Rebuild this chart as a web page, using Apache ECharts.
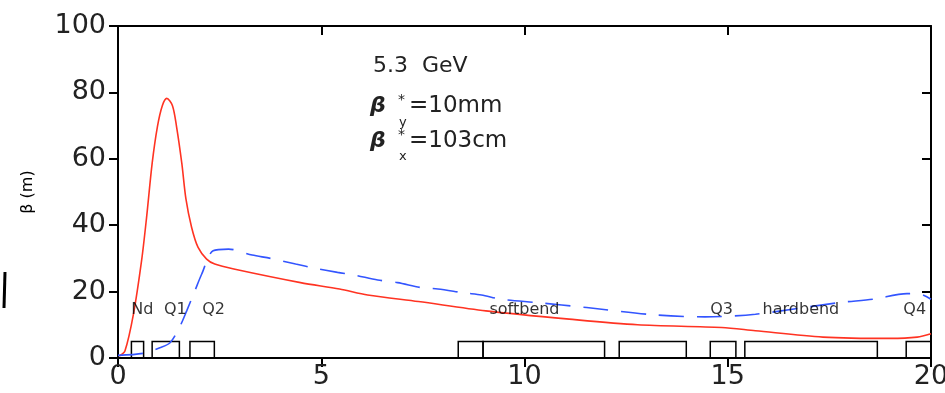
<!DOCTYPE html>
<html>
<head>
<meta charset="utf-8">
<script src="https://cdn.jsdelivr.net/npm/echarts@6/dist/echarts.min.js"></script>
<style>html,body{margin:0;padding:0;background:#fff}#c{width:945px;height:393px}</style>
</head>
<body>
<div id="c"></div>
<script>
// s (m) positions and beta values
const redX = [0.03,0.17,0.38,0.58,0.70,0.84,0.97,1.09,1.20,1.34,1.44,1.57,1.67,1.81,1.97,2.18,2.38,2.85,4.49,5.45,6.14,7.39,9.05,11.1,12.78,14.85,15.68,17.34,19.0,19.66,20.0];
const redY = [0.6,2.1,13.2,29.3,42.0,58.6,69.7,76.0,78.2,76.0,69.7,58.6,48.0,39.4,33.3,29.8,28.3,26.8,22.7,20.8,19.0,17.0,14.2,11.7,10.0,9.2,8.2,6.3,5.9,6.3,7.3];
const blueX = [0,0.62,1.03,1.28,1.51,1.69,1.89,2.06,2.34,2.72,3.30,3.75,4.37,4.82,5.40,5.81,6.39,6.88,7.46,7.87,8.53,8.94,9.43,10.3,11.53,13.19,14.44,15.68,17.75,18.58,19.41,19.75,20];
const blueY = [0.8,1.4,3.1,4.6,9.2,14.2,20.2,25.3,32.3,32.8,31.0,30.0,28.3,27.1,25.8,25.0,23.5,22.7,21.2,20.8,19.6,19.0,17.7,16.7,15.2,13.0,12.4,13.2,16.7,17.7,19.4,19.2,17.7];
// magnet elements: start, end, height
const boxStart = [0.33,0.84,1.77,8.37,8.98,12.33,14.57,15.42,19.39];
const boxEnd   = [0.63,1.51,2.37,8.98,11.97,13.98,15.2,18.68,20.0];
const boxHeight = 5;
// element names
const elemNames = ['Nd','Q1','Q2','softbend','Q3','hardbend','Q4'];
const elemX = [0.6,1.41,2.35,10.0,14.85,16.8,19.6];
const elemY = [14.5,14.5,14.5,14.5,14.5,14.5,14.5];
const xTicks = [0,5,10,15,20];
const yTicks = [0,20,40,60,80,100];

const redData = redX.map((x,i)=>[x,redY[i]]);
const blueData = blueX.map((x,i)=>[x,blueY[i]]);
const boxData = boxStart.map((s,i)=>[s,boxEnd[i],boxHeight]);
const labelData = elemNames.map((n,i)=>({value:[elemX[i],elemY[i]],name:n}));

const FONT = 'DejaVu Sans';
const axisLine = {show:true,onZero:false,lineStyle:{color:'#000',width:2}};
const tickOut = {show:true,inside:false,length:9,lineStyle:{color:'#000',width:2}};
const tickIn = {show:true,inside:true,length:9,lineStyle:{color:'#000',width:2}};

const chart = echarts.init(document.getElementById('c'));
chart.setOption({
  animation:false,
  backgroundColor:'#fff',
  grid:{left:118,right:14,top:26,bottom:35,containLabel:false,outerBoundsMode:'none'},
  xAxis:[
    {type:'value',position:'bottom',min:xTicks[0],max:xTicks[xTicks.length-1],interval:5,
     axisLine:axisLine,axisTick:tickOut,splitLine:{show:false},
     axisLabel:{fontFamily:FONT,fontSize:27,color:'#222',margin:5}},
    {type:'value',position:'top',min:0,max:20,interval:5,
     axisLine:axisLine,axisTick:tickIn,splitLine:{show:false},axisLabel:{show:false}}
  ],
  yAxis:[
    {type:'value',position:'left',min:yTicks[0],max:yTicks[yTicks.length-1],interval:20,
     axisLine:axisLine,axisTick:tickOut,splitLine:{show:false},
     axisLabel:{fontFamily:FONT,fontSize:27,color:'#222',margin:12},
     name:'β (m)',nameLocation:'middle',nameRotate:90,nameGap:82,
     nameTextStyle:{fontFamily:FONT,fontSize:16,color:'#000'}},
    {type:'value',position:'right',min:0,max:100,interval:20,
     axisLine:axisLine,axisTick:tickIn,splitLine:{show:false},axisLabel:{show:false}}
  ],
  series:[
    {type:'custom',xAxisIndex:0,yAxisIndex:0,data:boxData,silent:true,z:3,
     renderItem:function(params,api){
       const p0 = api.coord([api.value(0),api.value(2)]);
       const p1 = api.coord([api.value(1),0]);
       return {type:'rect',shape:{x:p0[0],y:p0[1],width:p1[0]-p0[0],height:p1[1]-p0[1]},
               style:{fill:'none',stroke:'#000',lineWidth:1.5}};
     }},
    {type:'line',xAxisIndex:0,yAxisIndex:0,data:redData,smooth:0.3,showSymbol:false,symbol:'none',
     lineStyle:{color:'#ff3322',width:1.6},z:4},
    {type:'line',xAxisIndex:0,yAxisIndex:0,data:blueData,smooth:0.3,showSymbol:false,symbol:'none',
     lineStyle:{color:'#3355ff',width:1.6,type:[25,13]},z:4},
    {type:'scatter',xAxisIndex:0,yAxisIndex:0,data:labelData,symbolSize:0,silent:true,z:5,
     label:{show:true,position:'inside',formatter:'{b}',fontFamily:FONT,fontSize:16,color:'#000'}}
  ],
  graphic:[
    {type:'text',left:373,top:55,style:{text:'5.3  GeV',fontFamily:FONT,fontSize:22,fill:'#222'}},
    {type:'text',left:370,top:95,style:{text:'β',fontFamily:FONT,fontSize:22,fontWeight:'bold',fontStyle:'italic',fill:'#222'}},
    {type:'text',left:398,top:93,style:{text:'*',fontFamily:FONT,fontSize:14,fill:'#222'}},
    {type:'text',left:399,top:116,style:{text:'y',fontFamily:FONT,fontSize:13,fill:'#222'}},
    {type:'text',left:409,top:95,style:{text:'=10mm',fontFamily:FONT,fontSize:23,fill:'#222'}},
    {type:'text',left:370,top:130,style:{text:'β',fontFamily:FONT,fontSize:22,fontWeight:'bold',fontStyle:'italic',fill:'#222'}},
    {type:'text',left:398,top:128,style:{text:'*',fontFamily:FONT,fontSize:14,fill:'#222'}},
    {type:'text',left:399,top:150,style:{text:'x',fontFamily:FONT,fontSize:13,fill:'#222'}},
    {type:'text',left:409,top:130,style:{text:'=103cm',fontFamily:FONT,fontSize:23,fill:'#222'}},
    {type:'line',shape:{x1:5,y1:272,x2:4,y2:308},style:{stroke:'#000',lineWidth:3}}
  ]
});
</script>
</body>
</html>
